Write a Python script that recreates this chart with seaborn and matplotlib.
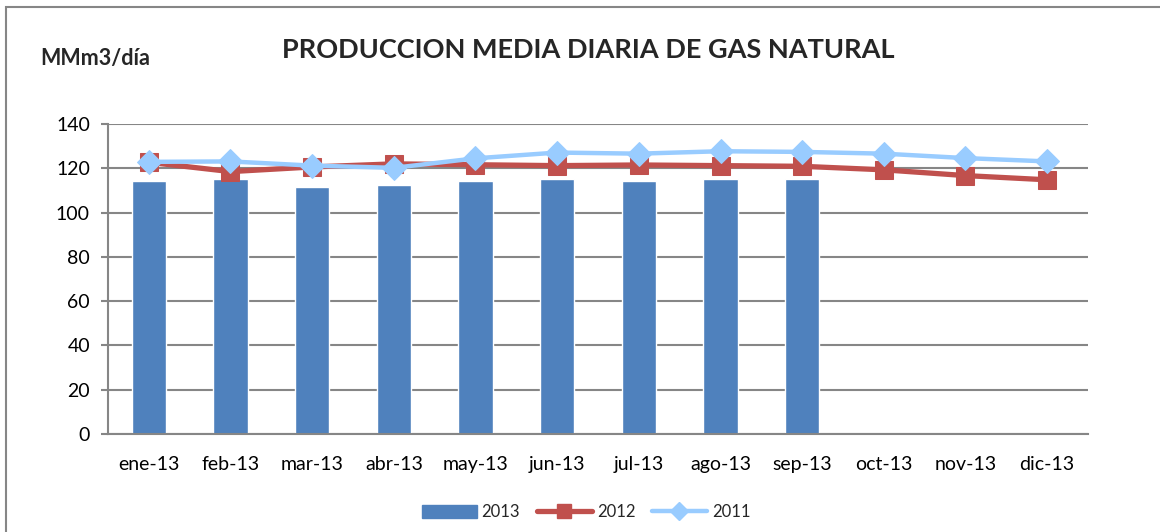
import numpy as np
import pandas as pd
import matplotlib
matplotlib.use("Agg")
import matplotlib.pyplot as plt
from matplotlib.patches import Rectangle
from matplotlib.lines import Line2D
import seaborn as sns

months = ['ene-13', 'feb-13', 'mar-13', 'abr-13', 'may-13', 'jun-13',
          'jul-13', 'ago-13', 'sep-13', 'oct-13', 'nov-13', 'dic-13']
prod_2013 = [114.3, 115.2, 111.6, 112.5, 114.3, 115.2, 114.3, 115.2, 115.2]
prod_2012 = [122.7, 118.5, 120.6, 122.0, 121.6, 121.2, 121.5, 121.2, 120.9, 119.3, 116.7, 114.8]
prod_2011 = [122.9, 123.1, 121.2, 120.2, 124.5, 127.1, 126.6, 127.7, 127.4, 126.6, 124.6, 123.1]

df13 = pd.DataFrame({'mes': months[:len(prod_2013)], 'valor': prod_2013})

sns.set_style("white")
plt.rcParams['font.family'] = ['Lato', 'DejaVu Sans']

fig = plt.figure(figsize=(11.6, 5.32), dpi=100)
ax = fig.add_axes([108 / 1160, 1 - 434 / 532, 980 / 1160, 310 / 532])

grey = '#868686'
sns.barplot(data=df13, x='mes', y='valor', order=months, color='#4F81BD',
            saturation=1, width=0.42, ax=ax, zorder=2)

pos = np.arange(len(months))
sns.lineplot(x=pos, y=prod_2012, color='#C0504D', linewidth=3.8, marker='s',
             markersize=13, markeredgecolor='#C0504D', ax=ax, zorder=3)
sns.lineplot(x=pos, y=prod_2011, color='#99CCFF', linewidth=3.2, marker='D',
             markersize=12, markeredgecolor='#99CCFF', ax=ax, zorder=4)

ax.set_xlim(-0.5, len(months) - 0.5)
ax.set_ylim(0, 140)
ax.set_yticks(range(0, 141, 20))
ax.set_xticks(pos)
ax.set_xticklabels(months)
ax.set_xlabel('')
ax.set_ylabel('')
ax.yaxis.grid(True, color=grey, linewidth=1.5)
ax.set_axisbelow(True)
for s in ['top', 'right']:
    ax.spines[s].set_visible(False)
for s in ['left', 'bottom']:
    ax.spines[s].set_color(grey)
    ax.spines[s].set_linewidth(1.5)
ax.tick_params(axis='y', left=True, length=5, width=1.5, color=grey,
               labelsize=14, pad=8, labelcolor='black')
ax.tick_params(axis='x', bottom=False, labelsize=14, pad=12, labelcolor='black')

fig.text(588 / 1160, 1 - 50 / 532, 'PRODUCCION MEDIA DIARIA DE GAS NATURAL',
         ha='center', va='center', fontsize=19.5, fontweight='bold')
fig.text(40 / 1160, 1 - 58 / 532, 'MMm3/día', ha='left', va='center',
         fontsize=15.5, fontweight='bold')

handles = [Rectangle((0, 0), 1, 1, color='#4F81BD'),
           Line2D([], [], color='#C0504D', linewidth=3.8, marker='s', markersize=10),
           Line2D([], [], color='#99CCFF', linewidth=3.2, marker='D', markersize=9)]
fig.legend(handles, ['2013', '2012', '2011'], loc='center',
           bbox_to_anchor=(586 / 1160, 1 - 512 / 532), ncol=3, frameon=False,
           fontsize=12, handlelength=3.3, handleheight=0.85, columnspacing=1.0,
           handletextpad=0.3)

fig.patches.append(Rectangle((6 / 1160, -0.1), 1.2, 1.1 - 7 / 532, transform=fig.transFigure,
                             fill=False, edgecolor=grey, linewidth=1.5))

fig.savefig('out.png', dpi=100)
